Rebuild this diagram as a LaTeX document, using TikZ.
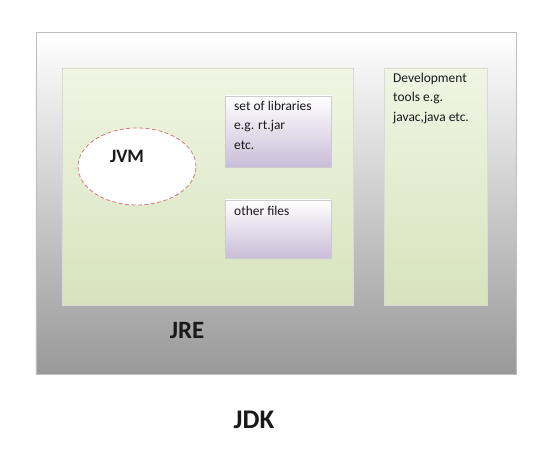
\documentclass[tikz,border=0pt]{standalone}
\usepackage{fontspec}
\setmainfont{Carlito}
\usetikzlibrary{shapes.geometric, shadows}
\definecolor{jregreen}{HTML}{D7E3BC}
\definecolor{jrelight}{HTML}{F0F5E4}
\definecolor{liblilac}{HTML}{C9BDD8}
\definecolor{jvmred}{HTML}{C0504D}
\tikzstyle{jdkbox} = [rectangle, draw=black!25, top color=white, bottom color=black!40, shading angle=0]
\tikzstyle{jrebox} = [rectangle, draw=black!15, top color=jrelight, bottom color=jregreen, drop shadow={opacity=0.25, shadow xshift=1pt, shadow yshift=-1pt}]
\tikzstyle{libbox} = [rectangle, draw=black!20, top color=white, bottom color=liblilac, drop shadow={opacity=0.35, shadow xshift=1pt, shadow yshift=-1.5pt}]
\tikzstyle{vm} = [ellipse, draw=jvmred!75, line width=0.8pt, dash pattern=on 4pt off 2.5pt, fill=white]
\tikzstyle{boxtext} = [anchor=north west, inner sep=0pt, align=left, font=\fontsize{13.5}{19.5}\selectfont, text=black!90]
\tikzstyle{bigtext} = [inner sep=0pt, font=\bfseries, text=black!90]

\begin{document}
\begin{tikzpicture}[x=1bp, y=-1bp]
               \useasboundingbox (0,0) rectangle (549,455);
               \node [jdkbox, minimum width=480bp, minimum height=342bp] at (276,203) (jdk) {};
               \node [jrebox, minimum width=291bp, minimum height=237bp] at (207.5,186.5) (jre) {};
               \node [jrebox, minimum width=103bp, minimum height=237bp] at (435.5,186.5) (devtools) {};
               \node [libbox, minimum width=106bp, minimum height=71bp] at (278,131.5) (libs) {};
               \node [libbox, minimum width=106bp, minimum height=58bp] at (278,229) (otherfiles) {};
               \node [vm, minimum width=118bp, minimum height=77bp] at (137,166.5) (jvm) {};
               \node [bigtext, font=\fontsize{19}{19}\selectfont\bfseries] at ([shift={(-10,-10)}]jvm.center) (jvmtext) {JVM};
               \node [boxtext] at (234,101) (libstext) {set of libraries\\e.g. rt.jar\\etc.};
               \node [boxtext] at (234,206) (othertext) {other files};
               \node [boxtext] at (393,73) (devtext) {Development\\tools e.g.\\javac,java etc.};
               \node [bigtext, font=\fontsize{25}{25}\selectfont\bfseries] at (187,331) (jretext) {JRE};
               \node [bigtext, font=\fontsize{27}{27}\selectfont\bfseries] at (254,420) (jdktext) {JDK};
               \end{tikzpicture}
\end{document}
